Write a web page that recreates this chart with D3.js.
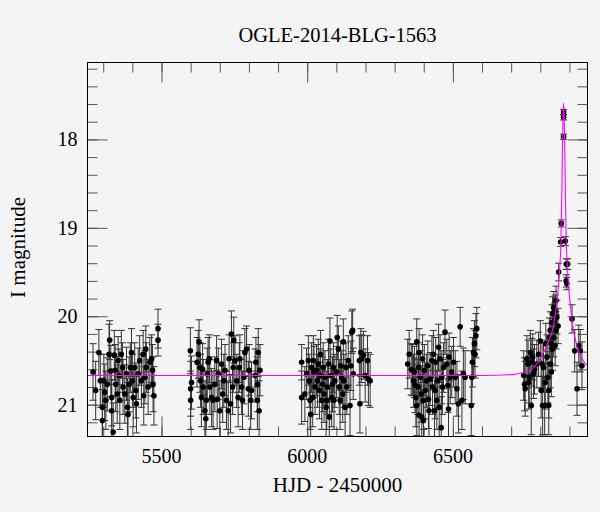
<!DOCTYPE html>
<html>
<head>
<meta charset="utf-8">
<script src="https://cdn.jsdelivr.net/npm/d3@7"></script>
<style>
  body { margin: 0; background: #f4f4f4; }
  svg { display: block; }
  text { font-family: "Liberation Serif", "DejaVu Serif", serif; fill: #000; }
</style>
</head>
<body>
<script>
// photometry: [HJD-2450000, I mag, error], one array per season
const season1 = [
  [5265,20.63,0.32],[5274,20.84,0.33],[5285,20.41,0.26],[5290,20.73,0.30],[5297,21.03,0.33],[5297,21.18,0.35],
  [5302,20.73,0.30],[5305,20.86,0.32],[5309,20.95,0.33],[5314,20.77,0.30],[5320,20.43,0.34],[5322,20.27,0.22],
  [5326,20.62,0.29],[5329,20.92,0.32],[5329,21.07,0.35],[5334,21.31,0.33],[5338,20.44,0.28],[5341,20.61,0.29],
  [5343,20.77,0.31],[5348,20.88,0.33],[5351,20.50,0.27],[5354,20.67,0.30],[5357,20.95,0.33],[5362,20.43,0.27],
  [5366,20.58,0.28],[5368,20.80,0.31],[5374,20.88,0.33],[5380,20.65,0.30],[5383,21.03,0.33],[5385,21.11,0.36],
  [5389,20.77,0.31],[5393,20.58,0.28],[5397,20.41,0.27],[5400,20.73,0.30],[5403,20.92,0.33],[5408,20.58,0.28],
  [5412,20.84,0.31],[5414,20.99,0.33],[5420,20.65,0.29],[5425,20.50,0.28],[5431,20.73,0.30],[5437,20.43,0.27],
  [5439,20.90,0.33],[5443,20.69,0.30],[5446,20.37,0.26],[5448,20.58,0.28],[5454,20.80,0.31],[5460,20.52,0.28],
  [5466,20.48,0.27],[5469,20.61,0.29],[5471,20.77,0.31],[5474,20.90,0.33],[5488,20.14,0.22],[5488,20.27,0.18]
];
const season2 = [
  [5599,20.39,0.26],[5603,20.75,0.30],[5600,20.82,0.31],[5600,20.95,0.33],[5622,20.52,0.28],[5626,20.43,0.27],
  [5629,20.29,0.25],[5632,20.58,0.28],[5634,20.73,0.30],[5637,20.92,0.33],[5641,20.60,0.29],[5643,20.80,0.31],
  [5649,21.07,0.34],[5652,21.16,0.35],[5654,20.95,0.33],[5657,20.65,0.29],[5660,20.52,0.28],[5664,20.48,0.27],
  [5666,20.80,0.31],[5672,20.92,0.33],[5677,20.95,0.33],[5683,20.77,0.31],[5689,20.50,0.28],[5691,20.94,0.33],
  [5695,20.65,0.29],[5700,21.07,0.34],[5706,20.54,0.28],[5710,20.88,0.32],[5714,20.73,0.30],[5718,20.61,0.29],
  [5723,20.95,0.33],[5729,21.07,0.34],[5732,20.48,0.27],[5737,20.99,0.33],[5740,20.20,0.26],[5744,20.80,0.31],
  [5746,20.58,0.28],[5748,20.27,0.26],[5752,20.50,0.28],[5758,20.73,0.30],[5763,20.92,0.33],[5767,20.58,0.28],
  [5769,20.48,0.27],[5775,20.80,0.31],[5778,20.95,0.33],[5783,20.69,0.30],[5786,20.41,0.27],[5792,20.37,0.26],
  [5798,20.82,0.31],[5801,20.61,0.29],[5806,20.95,0.33],[5809,20.84,0.32],[5821,20.67,0.30],[5824,20.52,0.28],
  [5829,20.77,0.31],[5829,20.95,0.33],[5832,20.41,0.27],[5835,21.07,0.34],[5838,20.61,0.29]
];
const season3 = [
  [5981,20.52,0.20],[5981,20.92,0.30],[5992,20.88,0.31],[5998,20.65,0.29],[6004,20.50,0.28],[6007,20.73,0.30],
  [6010,20.95,0.33],[6012,21.11,0.35],[6015,20.58,0.28],[6019,20.92,0.33],[6021,20.50,0.28],[6023,20.63,0.29],
  [6027,20.80,0.31],[6032,20.61,0.29],[6035,20.73,0.30],[6038,20.54,0.28],[6042,20.84,0.32],[6044,20.67,0.30],
  [6046,20.43,0.27],[6050,20.95,0.33],[6053,20.77,0.31],[6055,20.58,0.28],[6058,20.88,0.32],[6061,20.69,0.30],
  [6065,21.03,0.34],[6067,20.95,0.33],[6069,20.80,0.31],[6073,20.54,0.28],[6076,21.14,0.35],[6078,20.28,0.26],
  [6081,20.67,0.30],[6084,20.92,0.33],[6087,20.77,0.31],[6090,20.58,0.28],[6092,20.95,0.33],[6095,20.73,0.30],
  [6101,20.63,0.29],[6103,20.24,0.25],[6107,20.37,0.26],[6110,20.80,0.31],[6113,20.95,0.33],[6115,20.56,0.28],
  [6118,20.69,0.30],[6122,20.88,0.32],[6124,20.29,0.26],[6126,20.73,0.30],[6130,21.03,0.34],[6133,20.58,0.28],
  [6136,20.80,0.31],[6141,20.50,0.28],[6147,21.01,0.34],[6150,20.56,0.28],[6153,20.18,0.24],[6156,20.16,0.24],
  [6158,20.65,0.29],[6179,20.50,0.28],[6181,20.99,0.33],[6184,20.41,0.27],[6187,20.48,0.27],[6193,20.44,0.27],
  [6199,20.67,0.30],[6207,20.50,0.28],[6210,20.71,0.30],[6216,20.73,0.30]
];
const season4 = [
  [6345,20.54,0.28],[6350,20.43,0.27],[6357,20.60,0.29],[6361,20.61,0.29],[6365,20.73,0.30],[6368,20.63,0.29],
  [6370,20.78,0.31],[6373,20.92,0.33],[6376,20.29,0.26],[6376,21.01,0.34],[6380,20.80,0.31],[6382,20.58,0.28],
  [6384,20.41,0.27],[6384,21.12,0.35],[6388,20.69,0.30],[6391,20.88,0.32],[6393,21.14,0.35],[6396,20.48,0.27],
  [6399,20.95,0.33],[6399,21.18,0.35],[6402,20.61,0.29],[6405,20.84,0.32],[6410,20.73,0.30],[6414,20.56,0.28],
  [6416,20.94,0.33],[6418,21.07,0.34],[6422,20.71,0.30],[6428,20.50,0.28],[6430,20.80,0.31],[6433,20.43,0.27],
  [6437,21.07,0.34],[6439,20.84,0.32],[6441,20.52,0.28],[6445,20.95,0.33],[6448,20.73,0.30],[6451,20.35,0.26],
  [6453,21.03,0.34],[6456,20.48,0.27],[6460,21.26,0.35],[6462,20.69,0.30],[6464,20.80,0.31],[6468,20.58,0.28],
  [6473,20.18,0.25],[6479,20.54,0.28],[6483,20.78,0.31],[6485,21.05,0.34],[6487,20.46,0.27],[6491,20.69,0.30],
  [6496,20.63,0.29],[6502,20.52,0.28],[6508,20.69,0.30],[6514,20.82,0.31],[6519,20.99,0.33],[6525,20.12,0.22],
  [6531,20.95,0.33],[6536,20.65,0.29],[6542,20.69,0.30],[6563,21.01,0.34],[6565,20.69,0.30],[6567,20.52,0.28],
  [6571,20.41,0.27],[6574,20.31,0.26],[6576,20.43,0.27],[6579,20.22,0.25],[6582,20.14,0.24]
];
const season5 = [
  [6743,20.67,0.28],[6746,20.77,0.30],[6748,20.82,0.31],[6754,20.48,0.26],[6758,20.54,0.27],[6760,20.75,0.30],
  [6762,20.69,0.29],[6766,20.41,0.25],[6769,21.01,0.33],[6771,20.52,0.27],[6774,20.46,0.26],[6777,20.65,0.28],
  [6780,20.60,0.28],[6788,20.54,0.27],[6794,20.43,0.25],[6800,20.28,0.23],[6803,20.84,0.31],[6806,20.54,0.27],
  [6808,21.01,0.33],[6811,20.58,0.28],[6815,21.01,0.33],[6817,20.75,0.30],[6819,20.31,0.23],[6823,20.46,0.25],
  [6826,20.69,0.29],[6829,20.84,0.31],[6829,21.01,0.33],[6831,20.24,0.22],[6834,20.16,0.21],[6834,20.54,0.27],
  [6838,20.31,0.23],[6838,20.63,0.28],[6840,20.07,0.20],[6842,19.97,0.19],[6842,20.37,0.24],[6846,19.90,0.18],
  [6846,20.24,0.22],[6849,20.05,0.20],[6851,19.94,0.18],[6851,20.33,0.23],[6854,19.82,0.16],[6854,20.16,0.21],
  [6857,20.01,0.19],[6861,20.11,0.20],[6863,19.50,0.10],[6870,19.16,0.05],[6872,18.95,0.04],[6880,17.69,0.03],
  [6880,17.75,0.03],[6880,17.97,0.03],[6886,19.15,0.05],[6889,19.41,0.06],[6894,19.41,0.06],[6889,19.60,0.07],
  [6891,19.63,0.07],[6909,20.03,0.16],[6918,20.39,0.24],[6926,20.82,0.30],[6932,20.33,0.23],[6937,20.39,0.24],
  [6943,20.56,0.27]
];

// model light curve
const modelHjd = [5246, 6600, 6700, 6731, 6765, 6788, 6805, 6822, 6836, 6845, 6851, 6857, 6862, 6867, 6871,
  6874, 6876, 6878, 6880, 6882, 6884, 6886, 6889, 6893, 6898, 6904, 6912, 6920, 6931, 6943, 6962];
const modelMag = [20.67, 20.67, 20.66, 20.645, 20.615, 20.54, 20.445, 20.33, 20.22, 20.11, 19.99, 19.84, 19.67,
  19.44, 19.14, 18.6, 18.1, 17.75, 17.59, 17.75, 18.1, 18.6, 19.14, 19.45, 19.7, 19.9, 20.12, 20.26, 20.39, 20.48, 20.56];

const xMinor = [5300,5400,5500,5600,5700,5800,5900,6000,6100,6200,6300,6400,6500,6600,6700,6800,6900];
const xMajor = [5500, 6000, 6500];
const yMinor = [17.2,17.4,17.6,17.8,18,18.2,18.4,18.6,18.8,19,19.2,19.4,19.6,19.8,20,20.2,20.4,20.6,20.8,21,21.2];
const yMajor = [18, 19, 20, 21];

const W = 600, H = 512;
const pLeft = 87.5, pRight = 587.5, pTop = 62.5, pBottom = 436.5;

const svg = d3.select("body").append("svg").attr("width", W).attr("height", H);

const x = d3.scaleLinear().domain([5246, 6962]).range([pLeft, pRight]);
const y = d3.scaleLinear().domain([17.13, 21.36]).range([pTop, pBottom]);

svg.append("clipPath").attr("id", "plotclip")
  .append("rect").attr("x", pLeft).attr("y", pTop).attr("width", pRight - pLeft).attr("height", pBottom - pTop);

// ticks on all four sides, pointing inward
function ticks(axis, vals, size, tr) {
  const g = svg.append("g").attr("transform", tr)
    .call(axis.tickValues(vals).tickSize(size).tickFormat(""));
  g.select(".domain").remove();
  g.selectAll("line").attr("stroke", "#555");
  return g;
}
ticks(d3.axisBottom(x), xMinor, -10, `translate(0,${pBottom})`);
ticks(d3.axisBottom(x), xMajor, -20, `translate(0,${pBottom})`);
ticks(d3.axisTop(x), xMinor, -10, `translate(0,${pTop})`);
ticks(d3.axisTop(x), xMajor, -20, `translate(0,${pTop})`);
ticks(d3.axisLeft(y), yMinor, -10, `translate(${pLeft},0)`);
ticks(d3.axisLeft(y), yMajor, -20, `translate(${pLeft},0)`);
ticks(d3.axisRight(y), yMinor, -10, `translate(${pRight},0)`);
ticks(d3.axisRight(y), yMajor, -20, `translate(${pRight},0)`);

// tick labels
svg.append("g").selectAll("text").data(xMajor).enter().append("text")
  .attr("x", d => x(d)).attr("y", 462.5)
  .attr("text-anchor", "middle").attr("font-size", 20)
  .text(d => d);
svg.append("g").selectAll("text").data(yMajor).enter().append("text")
  .attr("x", 77.5).attr("y", d => y(d) + 7)
  .attr("text-anchor", "end").attr("font-size", 20)
  .text(d => d);

// data
const allPoints = season1.concat(season2, season3, season4, season5);
const plot = svg.append("g").attr("clip-path", "url(#plotclip)");

const bars = plot.append("g").attr("stroke", "#333").attr("stroke-width", 1);
allPoints.forEach(p => {
  const cx = x(p[0]), y1 = y(p[1] - p[2]), y2 = y(p[1] + p[2]);
  bars.append("line").attr("x1", cx).attr("x2", cx).attr("y1", y1).attr("y2", y2);
  bars.append("line").attr("x1", cx - 3.5).attr("x2", cx + 3.5).attr("y1", y1).attr("y2", y1);
  bars.append("line").attr("x1", cx - 3.5).attr("x2", cx + 3.5).attr("y1", y2).attr("y2", y2);
});

plot.append("g").selectAll("circle").data(allPoints).enter().append("circle")
  .attr("cx", d => x(d[0])).attr("cy", d => y(d[1])).attr("r", 2.8)
  .attr("fill", "#000");

// model
const model = modelHjd.map((t, i) => [t, modelMag[i]]);
plot.append("path").datum(model)
  .attr("fill", "none").attr("stroke", "#ff00ff").attr("stroke-width", 1.1)
  .attr("d", d3.line().x(d => x(d[0])).y(d => y(d[1])).curve(d3.curveMonotoneX));

// frame
svg.append("rect").attr("x", pLeft).attr("y", pTop).attr("width", pRight - pLeft).attr("height", pBottom - pTop)
  .attr("fill", "none").attr("stroke", "#000").attr("stroke-width", 1);

// titles
svg.append("text").attr("x", (pLeft + pRight) / 2).attr("y", 41.5)
  .attr("text-anchor", "middle").attr("font-size", 20.5).text("OGLE-2014-BLG-1563");
svg.append("text").attr("x", (pLeft + pRight) / 2).attr("y", 491.5)
  .attr("text-anchor", "middle").attr("font-size", 21).text("HJD - 2450000");
svg.append("text").attr("transform", "translate(25,247.5) rotate(-90)")
  .attr("text-anchor", "middle").attr("font-size", 21).text("I magnitude");
</script>
</body>
</html>
